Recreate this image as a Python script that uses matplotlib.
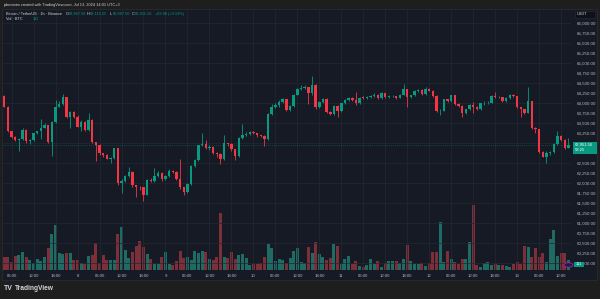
import pandas as pd
import matplotlib
matplotlib.use("Agg")
import matplotlib.pyplot as plt
from matplotlib.patches import Rectangle, Circle

plt.rcParams['font.family'] = ['Liberation Sans', 'DejaVu Sans']

# BTC/USDT 1h candles, Jul 7 04:00 -> Jul 13 14:00
start_time = "2024-07-07 04:00"
opens = [
    64170, 63900, 63290, 63150, 63070, 63090, 63320, 63040, 63070, 63230,
    63280, 63375, 63440, 63025, 63525, 63900, 63960, 64140, 63650, 63775,
    63650, 63400, 63520, 63320, 63570, 63010, 62950, 62730, 62700, 62600,
    62620, 62860, 61980, 62050, 62170, 62275, 61930, 61900, 61880, 61690,
    62075, 62050, 62170, 62250, 62080, 62170, 62300, 62270, 62090, 61880,
    61770, 61960, 62420, 62570, 62930, 62970, 62860, 62900, 62750, 62720,
    62580, 62980, 62960, 62830, 62670, 63110, 63190, 63220, 63275, 63240,
    63180, 63160, 63080, 63720, 63900, 63930, 64010, 64080, 63820, 63920,
    64190, 64330, 64360, 64380, 64230, 64440, 63880, 64010, 64090, 63775,
    63725, 63920, 63790, 63980, 64070, 64110, 64060, 63980, 64125, 64120,
    64140, 64170, 64200, 64120, 64230, 64130, 64160, 64165, 64120, 64190,
    64330, 64130, 64180, 64290, 64320, 64220, 64330, 64300, 64170, 63790,
    63800, 64080, 64040, 64180, 63970, 63925, 63730, 63830, 63940, 63900,
    63830, 63980, 63985, 64000, 64175, 64140, 64145, 64030, 64120, 64190,
    64160, 63880, 63830, 63750, 64030, 63375, 63330, 62775, 62650, 62730,
    62760, 62960, 63170, 63070, 62867.50,
]
closes = [
    63900, 63290, 63150, 63070, 63090, 63320, 63040, 63070, 63230, 63280,
    63375, 63440, 63025, 63525, 63900, 63960, 64140, 63650, 63775, 63650,
    63400, 63520, 63320, 63570, 63010, 62950, 62730, 62700, 62600, 62620,
    62860, 61980, 62050, 62170, 62275, 61930, 61900, 61880, 61690, 62075,
    62050, 62170, 62250, 62080, 62170, 62300, 62270, 62090, 61880, 61770,
    61960, 62420, 62570, 62930, 62970, 62860, 62900, 62750, 62720, 62580,
    62980, 62960, 62830, 62670, 63110, 63190, 63220, 63275, 63240, 63180,
    63160, 63080, 63720, 63900, 63930, 64010, 64080, 63820, 63920, 64190,
    64330, 64360, 64380, 64230, 64440, 63880, 64010, 64090, 63775, 63725,
    63920, 63790, 63980, 64070, 64110, 64060, 63980, 64125, 64120, 64140,
    64170, 64200, 64120, 64230, 64130, 64160, 64165, 64120, 64190, 64330,
    64130, 64180, 64290, 64320, 64220, 64330, 64300, 64170, 63790, 63800,
    64080, 64040, 64180, 63970, 63925, 63730, 63830, 63940, 63900, 63830,
    63980, 63985, 64000, 64175, 64140, 64145, 64030, 64120, 64190, 64160,
    63880, 63830, 63750, 64030, 63375, 63330, 62775, 62650, 62730, 62760,
    62960, 63170, 63070, 62867.50, 62951.56,
]
highs = [
    64190, 63910, 63300, 63170, 63120, 63360, 63330, 63090, 63250, 63300,
    63580, 63480, 63450, 63540, 64060, 64030, 64210, 64150, 63800, 63790,
    63680, 63560, 63530, 63730, 63580, 63020, 62960, 62740, 62720, 62650,
    62870, 62870, 62080, 62200, 62400, 62290, 61940, 61910, 61890, 62100,
    62110, 62370, 62290, 62260, 62200, 62330, 62320, 62280, 62600, 61890,
    61980, 62440, 62600, 62950, 63250, 63070, 62930, 62920, 62770, 62740,
    63190, 63000, 62980, 62850, 63130, 63460, 63260, 63300, 63290, 63250,
    63200, 63180, 63740, 63960, 63990, 64060, 64110, 64100, 63950, 64210,
    64360, 64440, 64440, 64400, 64660, 64460, 64040, 64120, 64110, 63800,
    63940, 63930, 64000, 64090, 64140, 64130, 64270, 64150, 64170, 64170,
    64200, 64240, 64210, 64260, 64240, 64180, 64190, 64170, 64210, 64470,
    64340, 64200, 64310, 64350, 64330, 64380, 64370, 64320, 64180, 63830,
    64100, 64090, 64200, 64190, 63980, 63940, 63850, 63960, 64010, 63920,
    64000, 64040, 64030, 64200, 64260, 64170, 64150, 64140, 64210, 64210,
    64170, 63900, 63850, 64380, 64050, 63380, 63340, 62800, 62790, 62790,
    62980, 63280, 63190, 63080, 63115.55,
]
lows = [
    63880, 63270, 63120, 63030, 62780, 63060, 63000, 62970, 63050, 63220,
    63100, 63360, 63000, 62660, 63500, 63880, 63930, 63620, 63360, 63620,
    63380, 63300, 63280, 63300, 62990, 62530, 62700, 62650, 62580, 62480,
    62600, 61950, 61730, 62020, 62150, 61900, 61650, 61820, 61530, 61680,
    62010, 62020, 62140, 62050, 62060, 62150, 62240, 62060, 61850, 61690,
    61740, 61940, 62400, 62550, 62920, 62830, 62820, 62720, 62650, 62470,
    62560, 62920, 62800, 62570, 62650, 63080, 63170, 63200, 63210, 63150,
    63130, 62920, 63060, 63700, 63860, 63900, 63990, 63800, 63790, 63900,
    64180, 64310, 64340, 63970, 64200, 63850, 63870, 63990, 63750, 63690,
    63700, 63650, 63770, 63960, 64040, 64030, 63950, 63970, 64080, 64100,
    64120, 64150, 64100, 64100, 64110, 64120, 64130, 64100, 64110, 64180,
    63880, 64110, 64160, 64270, 64200, 64200, 64280, 64150, 63770, 63690,
    63780, 64010, 64020, 63950, 63900, 63630, 63710, 63810, 63730, 63810,
    63820, 63950, 63960, 63990, 64120, 64110, 64010, 64010, 64100, 64140,
    63860, 63650, 63720, 63730, 63340, 63240, 62750, 62630, 62480, 62700,
    62730, 62950, 63040, 62850, 62867.50,
]
volumes = [
    38, 38, 25, 42, 45, 55, 38, 30, 22, 32, 28, 38, 67, 108, 135, 52, 48, 52, 52, 30,
    30, 20, 18, 42, 45, 82, 22, 45, 30, 30,
    30, 108, 130, 60, 37, 55, 72, 88, 70, 47,
    32, 18, 18, 38, 55, 18, 15, 27, 57, 37,
    38, 30, 57, 52, 57, 55, 33, 30, 38, 170,
    38, 37, 53, 32, 45, 48, 37, 15, 17, 18,
    20, 40, 77, 65, 27, 33, 31, 22, 35, 58,
    67, 25, 20, 68, 50, 84, 47, 40, 30, 35,
    77, 72, 18, 32, 43, 18, 26, 12, 8, 15,
    32, 18, 26, 10, 22, 26, 26, 26, 20, 34,
    75, 28, 18, 18, 20, 12, 20, 55, 55, 145,
    25, 57, 32, 25, 18, 33, 32, 85, 195, 15,
    8, 20, 24, 15, 17, 15, 15, 13, 10, 18,
    25, 18, 72, 70, 40, 65, 40, 52, 25, 92,
    120, 42, 50, 50, 30,
]
# 63,000 and 62,750 sit under the last-price tag in the reference
price_levels = [p for p in range(60000, 66001, 250) if p not in (62750, 63000)]
last_price = 62951.56

UP = "#089981"
DOWN = "#f23645"
UP_VOL = "#1f6b63"
DOWN_VOL = "#7d2f39"
BG = "#161a25"
OUTER = "#1e1e1e"
TXT = "#b2b5be"
GRID = "#232733"

W, H = 600, 299


def fx(x):
    return x / W


def fy(y):
    return 1 - y / H


times = pd.date_range(start_time, periods=len(closes), freq="h")
idx = list(range(len(closes)))

fig = plt.figure(figsize=(6, 2.99), dpi=100, facecolor=OUTER)

# chart panel background
fig.patches.append(Rectangle((fx(2), fy(280)), fx(597) - fx(2), fy(9) - fy(280),
                             transform=fig.transFigure, facecolor=BG,
                             edgecolor="#2a2e39", linewidth=0.5, zorder=-1))

ax = fig.add_axes([fx(3), fy(270), fx(571) - fx(3), fy(10) - fy(270)])
ax.set_facecolor("none")
vax = ax.twinx()
vax.set_ylim(0, 780)
vax.axis("off")
ax.set_zorder(2)
vax.set_zorder(1)

up = [c >= o for o, c in zip(opens, closes)]

# volume
vax.bar(idx, volumes, width=0.82,
        color=[UP_VOL if u else DOWN_VOL for u in up], linewidth=0)

# grid
for lv in range(60000, 66001, 500):
    ax.axhline(lv, color=GRID, lw=0.5, zorder=0)
xt = [i for i, t in enumerate(times) if t.hour % 6 == 0]
xl = [str(times[i].day) if times[i].hour == 0 else times[i].strftime("%H:%M") for i in xt]
for i in xt:
    ax.axvline(i, color=GRID, lw=0.5, zorder=0)

# candles
cols = [UP if u else DOWN for u in up]
ax.vlines(idx, lows, highs, colors=cols, lw=0.6, zorder=3)
bottoms = [min(o, c) for o, c in zip(opens, closes)]
heights = [max(abs(c - o), 14) for o, c in zip(opens, closes)]
ax.bar(idx, heights, bottom=bottoms, width=0.66, color=cols, linewidth=0, zorder=4)

ax.axhline(last_price, color=UP, lw=0.5, ls=(0, (1, 2)), alpha=0.7, zorder=2)

ax.set_xlim(-0.35, 154.7)
ax.set_ylim(59817, 66317)
ax.set_xticks(xt)
ax.set_xticklabels(xl)
ax.yaxis.tick_right()
ax.set_yticks(price_levels)
ax.set_yticklabels([f"{p:,.2f}" for p in price_levels])
ax.tick_params(axis="y", length=0, pad=4.3, labelsize=3.2, labelcolor=TXT)
ax.tick_params(axis="x", length=0, pad=3.0, labelsize=3.1, labelcolor=TXT)
for s in ax.spines.values():
    s.set_visible(False)

# header and legend
fs = 2.8
fig.text(fx(3), fy(5), "jabroanim created with TradingView.com, Jul 13, 2024 14:01 UTC+3",
         color="#d1d4dc", fontsize=fs, va="center")
fig.text(fx(6), fy(13.7), "Bitcoin / TetherUS · 1h · Binance", color="#d1d4dc",
         fontsize=fs, va="center")
legend_parts = [(66, "O", "62,867.50"), (87, "H", "63,115.55"),
                (110, "L", "62,867.50"), (132, "C", "62,951.56")]
for x, k, v in legend_parts:
    fig.text(fx(x), fy(13.7), k, color="#d1d4dc", fontsize=fs, va="center")
    fig.text(fx(x + 2.6), fy(13.7), v, color=UP, fontsize=fs, va="center")
fig.text(fx(155), fy(13.7), "+83.98 (+0.13%)", color=UP, fontsize=fs, va="center")
fig.text(fx(6), fy(19.3), "Vol · BTC", color="#d1d4dc", fontsize=fs, va="center")
fig.text(fx(33), fy(19.3), "111", color=UP, fontsize=fs, va="center")

# right scale boxes
fig.patches.append(Rectangle((fx(575), fy(17.5)), fx(20), fy(11) - fy(17.5),
                             transform=fig.transFigure, facecolor="#0f1119",
                             edgecolor="#2a2e39", lw=0.4, zorder=5))
fig.text(fx(577), fy(14.3), "USDT", color="#d1d4dc", fontsize=fs, va="center", zorder=6)

fig.patches.append(Rectangle((fx(573), fy(153.5)), fx(23.5), fy(141.5) - fy(153.5),
                             transform=fig.transFigure, facecolor=UP, lw=0, zorder=5))
fig.text(fx(575), fy(144.6), "62,951.56", color="white", fontsize=3.0, va="center", zorder=6)
fig.text(fx(575), fy(150.2), "58:25", color="white", fontsize=3.0, va="center", zorder=6)

fig.patches.append(Rectangle((fx(573.5), fy(266.5)), fx(10), fy(261.5) - fy(266.5),
                             transform=fig.transFigure, facecolor=UP, lw=0, zorder=5))
fig.text(fx(578.5), fy(264), "111", color="white", fontsize=fs, va="center",
         ha="center", zorder=6)

fig.patches.append(Circle((fx(568.5), fy(265)), 0.0075, transform=fig.transFigure,
                          facecolor="#2a1640", edgecolor="#9c27b0", lw=0.6, zorder=5))

# footer logo
fig.text(fx(4), fy(289), "TV", color="#d1d4dc", fontsize=5, fontweight="bold", va="center")
fig.text(fx(15), fy(289), "TradingView", color="#d1d4dc", fontsize=4.8,
         fontweight="semibold", va="center")

fig.savefig("out.png", dpi=100, facecolor=OUTER)
